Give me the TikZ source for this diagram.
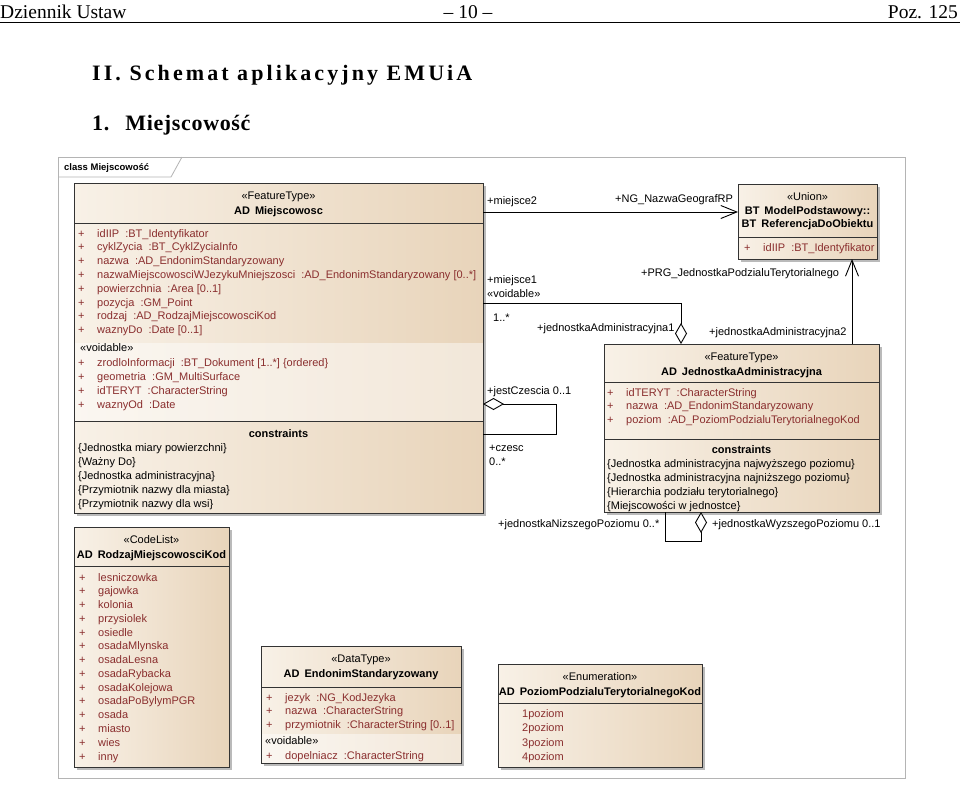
\documentclass[tikz,border=0pt]{standalone}
\usepackage{fontspec}
\setmainfont{Liberation Sans}
\newfontfamily\serifhead{Liberation Serif}
\newfontfamily\titlehead[LetterSpace=14]{Liberation Serif}
\newfontfamily\subhead[LetterSpace=3]{Liberation Serif}
\usetikzlibrary{arrows.meta,shadows}

\definecolor{boxlight}{HTML}{F8F1E7}
\definecolor{boxdark}{HTML}{E8D4BA}
\definecolor{attrred}{HTML}{8A2E2E}
\definecolor{framegray}{HTML}{B4B4B4}

\newcommand{\umlplus}{\makebox[19pt][l]{+}}

\tikzset{
  umlbox/.style={draw=black!80, line width=0.9pt, left color=boxlight, right color=boxdark,
    drop shadow={shadow xshift=3pt, shadow yshift=-3pt, fill=black!45, opacity=0.6},
    anchor=north west, inner sep=0pt, outer sep=0pt},
  txt/.style={font=\fontsize{11}{13}\selectfont, inner sep=0pt, anchor=base west},
  attr/.style={txt, text=attrred},
  stereo/.style={txt, anchor=base},
  cname/.style={txt, anchor=base, font=\fontsize{11}{13}\selectfont\bfseries},
  divider/.style={black!80, line width=0.9pt},
  aggr/.style={{Diamond[fill=white,length=21pt,width=12pt]}-},
}

\begin{document}
\begin{tikzpicture}[x=1pt, y=-1pt, >={Straight Barb[length=16pt,width=13pt]}]
  \useasboundingbox (0,0) rectangle (960,785);
  \fill[white] (0,0) rectangle (960,785);

  % page header
  \node[font=\serifhead\fontsize{19.5}{22}\selectfont, anchor=base west, inner sep=0pt] (hdl) at (0,18.5) {Dziennik Ustaw};
  \node[font=\serifhead\fontsize{19.5}{22}\selectfont, anchor=base, inner sep=0pt] (hdc) at (468,18.5) {– 10 –};
  \node[font=\serifhead\fontsize{19.5}{22}\selectfont, anchor=base east, inner sep=0pt] (hdr) at (958,18.5) {Poz. 125};
  \draw[line width=1.5pt] (0,22.5) -- (960,22.5);

  \node[font=\titlehead\fontsize{22}{26}\selectfont\bfseries, anchor=base west, inner sep=0pt] (title) at (92,80.5) {II. Schemat aplikacyjny EMUiA};
  \node[font=\subhead\fontsize{22}{26}\selectfont\bfseries, anchor=base west, inner sep=0pt] (subtitle) at (92,130) {1.\hspace{16pt}Miejscowość};

  % diagram frame
  \draw[framegray, line width=0.8pt] (58,157) rectangle (905,778);
  \draw[framegray, line width=0.8pt] (58,177) -- (171,177) -- (182,157);
  \node[txt, font=\fontsize{9.5}{11}\selectfont\bfseries] (frame) at (64,170.5) {class Miejscowość};

  % Define the class boxes
  \node[umlbox, minimum width=409pt, minimum height=330pt] (miejsc) at (74,183) {};
  \node[umlbox, minimum width=139pt, minimum height=75pt] (union) at (738,184) {};
  \node[umlbox, minimum width=275pt, minimum height=168pt] (jedn) at (604,344) {};
  \node[umlbox, minimum width=155pt, minimum height=240pt] (kod) at (74,527) {};
  \node[umlbox, minimum width=200pt, minimum height=117pt] (endonim) at (261,646) {};
  \node[umlbox, minimum width=204pt, minimum height=103pt] (poziom) at (498,664) {};

  % voidable sections
  \fill[white, opacity=0.45] (74.5,343) rectangle (482.5,421);
  \fill[white, opacity=0.45] (261.5,734) rectangle (460.5,762.5);

  % compartments
  \draw[divider] (74,223) -- (483,223);
  \draw[divider] (74,421) -- (483,421);
  \draw[divider] (738,237) -- (877,237);
  \draw[divider] (604,382) -- (879,382);
  \draw[divider] (604,439) -- (879,439);
  \draw[divider] (74,566) -- (229,566);
  \draw[divider] (261,687) -- (461,687);
  \draw[divider] (498,703) -- (702,703);

  % AD Miejscowosc
  \node[stereo] (m0) at (278.5,199) {«FeatureType»};
  \node[cname] (m00) at (278.5,214) {AD\hspace{5pt}Miejscowosc};
  \node[attr] (m1) at (78,237) {\umlplus idIIP~ :BT\_Identyfikator};
  \node[attr] (m2) at (78,250.8) {\umlplus cyklZycia~ :BT\_CyklZyciaInfo};
  \node[attr] (m3) at (78,264.6) {\umlplus nazwa~ :AD\_EndonimStandaryzowany};
  \node[attr] (m4) at (78,278.4) {\umlplus nazwaMiejscowosciWJezykuMniejszosci~ :AD\_EndonimStandaryzowany [0..*]};
  \node[attr] (m5) at (78,292.2) {\umlplus powierzchnia~ :Area [0..1]};
  \node[attr] (m6) at (78,306) {\umlplus pozycja~ :GM\_Point};
  \node[attr] (m7) at (78,319.8) {\umlplus rodzaj~ :AD\_RodzajMiejscowosciKod};
  \node[attr] (m8) at (78,333.6) {\umlplus waznyDo~ :Date [0..1]};
  \node[txt] (mv0) at (80,351) {«voidable»};
  \node[attr] (mv1) at (78,366) {\umlplus zrodloInformacji~ :BT\_Dokument [1..*] \{ordered\}};
  \node[attr] (mv2) at (78,380) {\umlplus geometria~ :GM\_MultiSurface};
  \node[attr] (mv3) at (78,394) {\umlplus idTERYT~ :CharacterString};
  \node[attr] (mv4) at (78,408) {\umlplus waznyOd~ :Date};
  \node[cname] (mc0) at (278.5,437) {constraints};
  \node[txt] (mc1) at (78,451) {\{Jednostka miary powierzchni\}};
  \node[txt] (mc2) at (78,465) {\{Ważny Do\}};
  \node[txt] (mc3) at (78,479) {\{Jednostka administracyjna\}};
  \node[txt] (mc4) at (78,493) {\{Przymiotnik nazwy dla miasta\}};
  \node[txt] (mc5) at (78,507) {\{Przymiotnik nazwy dla wsi\}};

  % BT ReferencjaDoObiektu
  \node[stereo] (u0) at (807.5,200) {«Union»};
  \node[cname] (u00) at (807.5,214) {BT\hspace{5pt}ModelPodstawowy::};
  \node[cname] (u000) at (807.5,227.5) {BT\hspace{5pt}ReferencjaDoObiektu};
  \begin{scope}
    \clip (738,237) rectangle (876.5,259);
    \node[attr] (u1) at (744,251) {\umlplus idIIP~ :BT\_Identyfikator};
  \end{scope}

  % AD JednostkaAdministracyjna
  \node[stereo] (j0) at (741.5,360) {«FeatureType»};
  \node[cname] (j00) at (741.5,375) {AD\hspace{5pt}JednostkaAdministracyjna};
  \node[attr] (j1) at (607,396) {\umlplus idTERYT~ :CharacterString};
  \node[attr] (j2) at (607,409.8) {\umlplus nazwa~ :AD\_EndonimStandaryzowany};
  \node[attr] (j3) at (607,423.6) {\umlplus poziom~ :AD\_PoziomPodzialuTerytorialnegoKod};
  \node[cname] (jc0) at (741.5,453) {constraints};
  \node[txt] (jc1) at (607,467) {\{Jednostka administracyjna najwyższego poziomu\}};
  \node[txt] (jc2) at (607,481) {\{Jednostka administracyjna najniższego poziomu\}};
  \node[txt] (jc3) at (607,495) {\{Hierarchia podziału terytorialnego\}};
  \node[txt] (jc4) at (607,509) {\{Miejscowości w jednostce\}};

  % AD RodzajMiejscowosciKod
  \node[stereo] (k0) at (151.5,543) {«CodeList»};
  \node[cname] (k00) at (151.5,558) {AD\hspace{5pt}RodzajMiejscowosciKod};
  \node[attr] (k1) at (79,581) {\umlplus lesniczowka};
  \node[attr] (k2) at (79,594.8) {\umlplus gajowka};
  \node[attr] (k3) at (79,608.5) {\umlplus kolonia};
  \node[attr] (k4) at (79,622.3) {\umlplus przysiolek};
  \node[attr] (k5) at (79,636.1) {\umlplus osiedle};
  \node[attr] (k6) at (79,649.9) {\umlplus osadaMlynska};
  \node[attr] (k7) at (79,663.6) {\umlplus osadaLesna};
  \node[attr] (k8) at (79,677.4) {\umlplus osadaRybacka};
  \node[attr] (k9) at (79,691.2) {\umlplus osadaKolejowa};
  \node[attr] (k10) at (79,704.9) {\umlplus osadaPoBylymPGR};
  \node[attr] (k11) at (79,718.7) {\umlplus osada};
  \node[attr] (k12) at (79,732.5) {\umlplus miasto};
  \node[attr] (k13) at (79,746.2) {\umlplus wies};
  \node[attr] (k14) at (79,760) {\umlplus inny};

  % AD EndonimStandaryzowany
  \node[stereo] (e0) at (361,662) {«DataType»};
  \node[cname] (e00) at (361,677) {AD\hspace{5pt}EndonimStandaryzowany};
  \node[attr] (e1) at (266,701) {\umlplus jezyk~ :NG\_KodJezyka};
  \node[attr] (e2) at (266,714.8) {\umlplus nazwa~ :CharacterString};
  \node[attr] (e3) at (266,728.6) {\umlplus przymiotnik~ :CharacterString [0..1]};
  \node[txt] (ev0) at (265,744) {«voidable»};
  \node[attr] (ev1) at (266,759) {\umlplus dopelniacz~ :CharacterString};

  % AD PoziomPodzialuTerytorialnegoKod
  \node[stereo] (p0) at (600,680) {«Enumeration»};
  \node[cname] (p00) at (600,695.5) {AD\hspace{5pt}PoziomPodzialuTerytorialnegoKod};
  \node[attr] (p1) at (522,717) {1poziom};
  \node[attr] (p2) at (522,731.5) {2poziom};
  \node[attr] (p3) at (522,746) {3poziom};
  \node[attr] (p4) at (522,760) {4poziom};

  % Draw the associations
  \coordinate (c1) at (0,212);
  \coordinate (c2) at (852,0);
  \coordinate (c3) at (681,303);
  \coordinate (c4) at (556,404);
  \coordinate (c5) at (556,434);
  \coordinate (c6) at (701,541);
  \coordinate (c7) at (665,541);
  \draw[->, line width=0.9pt] (miejsc.east |- c1) -- (union.west |- c1);
  \draw[->, line width=0.9pt] (jedn.north -| c2) -- (union.south -| c2);
  \draw[aggr, line width=0.9pt] (jedn.north -| c3) |- (miejsc.east |- c3);
  \draw[aggr, line width=0.9pt] (miejsc.east |- c4) -- (c4) -- (c5) -- (miejsc.east |- c5);
  \draw[aggr, line width=0.9pt] (jedn.south -| c6) -- (c6) -- (c7) -- (jedn.south -| c7);

  % role labels
  \node[txt] (r1) at (487,204) {+miejsce2};
  \node[txt] (r2) at (615,202) {+NG\_NazwaGeografRP};
  \node[txt] (r3) at (641,276) {+PRG\_JednostkaPodzialuTerytorialnego};
  \node[txt] (r4) at (487,283) {+miejsce1};
  \node[txt] (r5) at (487,297) {«voidable»};
  \node[txt] (r6) at (493,321) {1..*};
  \node[txt] (r7) at (537,331) {+jednostkaAdministracyjna1};
  \node[txt] (r8) at (709,335) {+jednostkaAdministracyjna2};
  \node[txt] (r9) at (487,394) {+jestCzescia 0..1};
  \node[txt] (r10) at (489,451) {+czesc};
  \node[txt] (r11) at (489,465) {0..*};
  \node[txt] (r12) at (498,527) {+jednostkaNizszegoPoziomu 0..*};
  \node[txt] (r13) at (712,527) {+jednostkaWyzszegoPoziomu 0..1};
\end{tikzpicture}
\end{document}
